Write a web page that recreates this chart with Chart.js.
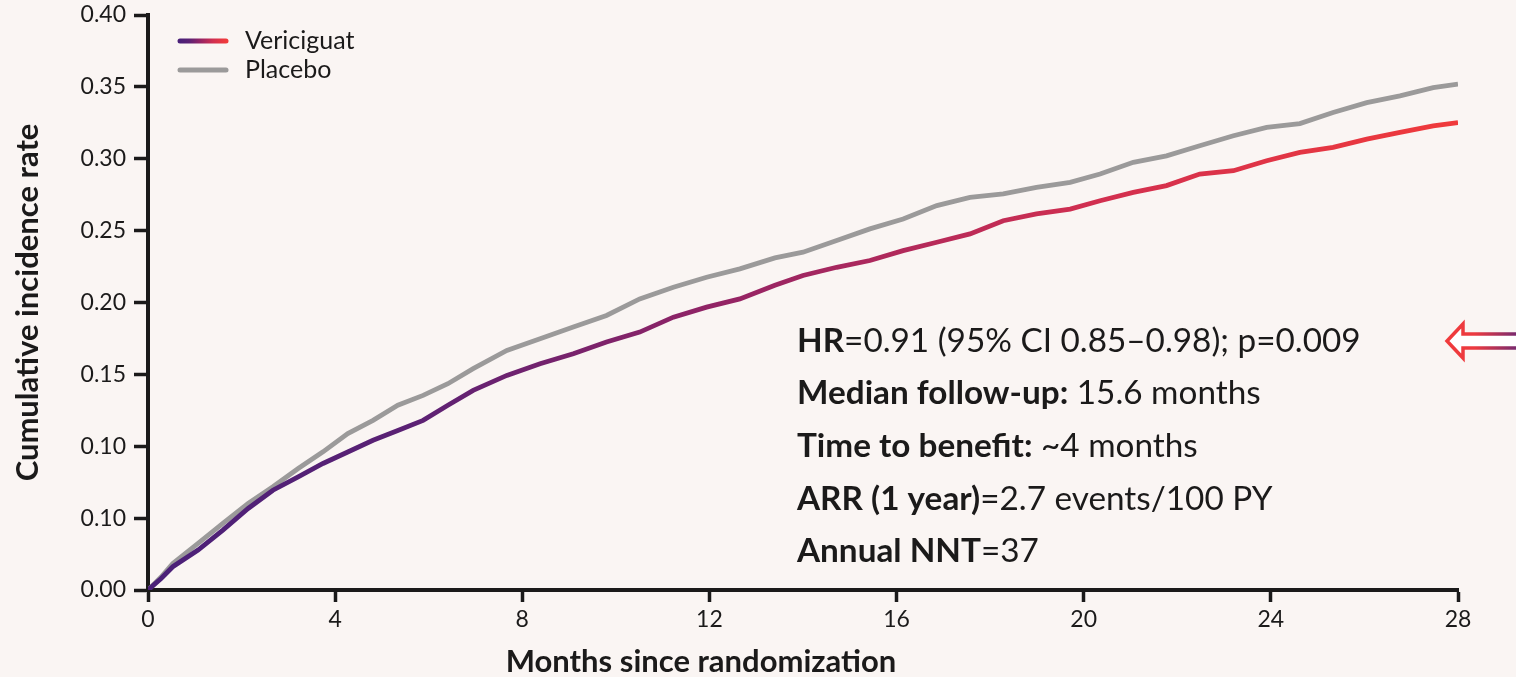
<!DOCTYPE html>
<html>
<head>
<meta charset="utf-8">
<script src="https://cdn.jsdelivr.net/npm/chart.js@4/dist/chart.umd.min.js"></script>
<style>
  html, body { margin: 0; padding: 0; background: #faf5f3; }
  #wrap { width: 1516px; height: 677px; position: relative; }
</style>
</head>
<body>
<div id="wrap"><canvas id="c" width="1516" height="677"></canvas></div>
<script>
// Time since randomization (months) at which both curves are sampled
const months = [0, 0.28, 0.53, 1.07, 1.6, 2.14, 2.67, 3.21, 3.74, 4.27, 4.81, 5.34, 5.88, 6.41, 6.95,
  7.67, 8.38, 9.09, 9.8, 10.51, 11.23, 11.94, 12.65, 13.4, 14.0, 14.72, 15.43, 16.14, 16.86, 17.57,
  18.28, 18.99, 19.71, 20.35, 21.06, 21.77, 22.48, 23.2, 23.91, 24.62, 25.33, 26.05, 26.76, 27.47, 28];

// Cumulative incidence, vericiguat arm
const vericiguat = [0, 0.008, 0.0162, 0.0278, 0.0417, 0.0567, 0.0694, 0.0787, 0.088, 0.096, 0.1042,
  0.111, 0.118, 0.1285, 0.1389, 0.1493, 0.1574, 0.1644, 0.1725, 0.1794, 0.1898, 0.1968, 0.2025, 0.212,
  0.2188, 0.2245, 0.2292, 0.2361, 0.2419, 0.2477, 0.2569, 0.2616, 0.265, 0.2708, 0.2766, 0.2813,
  0.2894, 0.2917, 0.2986, 0.3044, 0.3079, 0.3137, 0.3183, 0.3229, 0.3252];

// Cumulative incidence, placebo arm
const placebo = [0, 0.009, 0.0185, 0.0324, 0.0463, 0.0602, 0.0718, 0.0845, 0.0961, 0.1088, 0.118,
  0.1285, 0.1354, 0.1435, 0.154, 0.1667, 0.1748, 0.1829, 0.191, 0.2025, 0.2106, 0.2176, 0.2234, 0.231,
  0.235, 0.2431, 0.2512, 0.2581, 0.2674, 0.2731, 0.2755, 0.2801, 0.2836, 0.2894, 0.2975, 0.302,
  0.309, 0.316, 0.3218, 0.3245, 0.3322, 0.339, 0.3438, 0.3495, 0.3519];

const seriesNames = ['Vericiguat', 'Placebo'];
const yTickLabels = ['0.00', '0.10', '0.10', '0.15', '0.20', '0.25', '0.30', '0.35', '0.40'];
const xAxisTitle = 'Months since randomization';
const yAxisTitle = 'Cumulative incidence rate';

// Summary statistics: each line is a list of [text, bold] runs
const statLines = [
  [['HR', true], ['=0.91 (95% CI 0.85–0.98); p=0.009', false]],
  [['Median follow-up:', true], [' 15.6 months', false]],
  [['Time to benefit:', true], [' ~4 months', false]],
  [['ARR (1 year)', true], ['=2.7 events/100 PY', false]],
  [['Annual NNT', true], ['=37', false]]
];

const INK = '#1b1a1a';
const GREY = '#9b9a9a';
const FONT = 'Lato, "Source Sans Pro", "Noto Sans", sans-serif';
const PURPLE = '#4a2078';
const RED = '#f03a3b';

Chart.defaults.font.family = FONT;
Chart.defaults.color = INK;

function vericiguatGradient(ctx, x0, x1) {
  const g = ctx.createLinearGradient(x0, 0, x1, 0);
  g.addColorStop(0, PURPLE);
  g.addColorStop(0.2, '#5b2174');
  g.addColorStop(0.45, '#962464');
  g.addColorStop(0.72, '#d12f50');
  g.addColorStop(1, RED);
  return g;
}

const backdrop = {
  id: 'backdrop',
  beforeDraw(chart) {
    const { ctx, width, height } = chart;
    ctx.save();
    ctx.fillStyle = '#faf5f3';
    ctx.fillRect(0, 0, width, height);
    ctx.restore();
  }
};

const extras = {
  id: 'extras',
  afterDraw(chart) {
    const { ctx } = chart;
    ctx.save();

    // legend
    const legendRows = [
      { name: seriesNames[0], y: 41, stroke: vericiguatGradient(ctx, 180, 226) },
      { name: seriesNames[1], y: 70, stroke: GREY }
    ];
    legendRows.forEach(r => {
      ctx.beginPath();
      ctx.lineCap = 'round';
      ctx.lineWidth = 5;
      ctx.strokeStyle = r.stroke;
      ctx.moveTo(180, r.y);
      ctx.lineTo(226, r.y);
      ctx.stroke();
      ctx.fillStyle = INK;
      ctx.font = '25px ' + FONT;
      ctx.textBaseline = 'middle';
      ctx.textAlign = 'left';
      ctx.fillText(r.name, 245, r.y);
    });

    // statistics block
    ctx.textBaseline = 'alphabetic';
    const baselines = [352, 404, 457, 510, 562];
    statLines.forEach((runs, i) => {
      let x = 797;
      runs.forEach(([text, bold]) => {
        ctx.font = (bold ? 'bold ' : '') + '33.3px ' + FONT;
        ctx.fillStyle = INK;
        ctx.fillText(text, x, baselines[i]);
        x += ctx.measureText(text).width;
      });
    });

    // x-axis title
    ctx.font = 'bold 31px ' + FONT;
    ctx.textAlign = 'center';
    ctx.textBaseline = 'middle';
    ctx.fillText(xAxisTitle, 701, 662);

    // hollow arrow pointing at the text block
    const ag = ctx.createLinearGradient(1447, 0, 1516, 0);
    ag.addColorStop(0, RED);
    ag.addColorStop(0.4, '#ec3a40');
    ag.addColorStop(1, '#7a2a6e');
    ctx.beginPath();
    ctx.moveTo(1522, 334);
    ctx.lineTo(1463, 334);
    ctx.lineTo(1463, 324);
    ctx.lineTo(1447, 341);
    ctx.lineTo(1463, 358);
    ctx.lineTo(1463, 348);
    ctx.lineTo(1522, 348);
    ctx.closePath();
    ctx.fillStyle = '#ffffff';
    ctx.fill();
    ctx.lineWidth = 3.5;
    ctx.lineJoin = 'miter';
    ctx.strokeStyle = ag;
    ctx.stroke();

    ctx.restore();
  }
};

const axisStyle = {
  grid: { display: true, drawOnChartArea: false, drawTicks: true, tickWidth: 3.5, tickColor: INK },
  border: { display: true, color: INK, width: 4 }
};

new Chart(document.getElementById('c'), {
  type: 'line',
  data: {
    labels: months,
    datasets: [
      {
        label: seriesNames[0],
        data: months.map((m, i) => ({ x: m, y: vericiguat[i] })),
        borderColor(context) {
          const { chart } = context;
          const a = chart.chartArea;
          if (!a) return PURPLE;
          return vericiguatGradient(chart.ctx, a.left, a.right);
        },
        borderWidth: 4.8,
        pointRadius: 0,
        tension: 0,
        order: 0
      },
      {
        label: seriesNames[1],
        data: months.map((m, i) => ({ x: m, y: placebo[i] })),
        borderColor: GREY,
        borderWidth: 4.8,
        pointRadius: 0,
        tension: 0,
        order: 1
      }
    ]
  },
  options: {
    responsive: false,
    animation: false,
    devicePixelRatio: 1,
    layout: { padding: { top: 15, right: 58, left: 0, bottom: 0 } },
    plugins: { legend: { display: false }, tooltip: { enabled: false } },
    scales: {
      x: {
        type: 'linear',
        min: 0,
        max: 28,
        afterFit(s) { s.height = 87; s.paddingLeft = 0; s.paddingRight = 0; },
        ticks: { stepSize: 4, autoSkip: false, maxRotation: 0, padding: 4, font: { size: 23 }, color: INK },
        grid: Object.assign({}, axisStyle.grid, { tickLength: 12 }),
        border: axisStyle.border,
        title: { display: false }
      },
      y: {
        min: 0,
        max: 0.4,
        afterFit(s) { s.width = 148; s.paddingTop = 0; s.paddingBottom = 0; },
        ticks: {
          stepSize: 0.05,
          autoSkip: false,
          padding: 8,
          font: { size: 23 },
          color: INK,
          callback: (v, i) => yTickLabels[i]
        },
        grid: Object.assign({}, axisStyle.grid, { tickLength: 14 }),
        border: axisStyle.border,
        title: {
          display: true,
          text: yAxisTitle,
          font: { size: 31, weight: 'bold', lineHeight: 1 },
          color: INK,
          padding: { top: 12.5, bottom: 0 }
        }
      }
    }
  },
  plugins: [backdrop, extras]
});
</script>
</body>
</html>
